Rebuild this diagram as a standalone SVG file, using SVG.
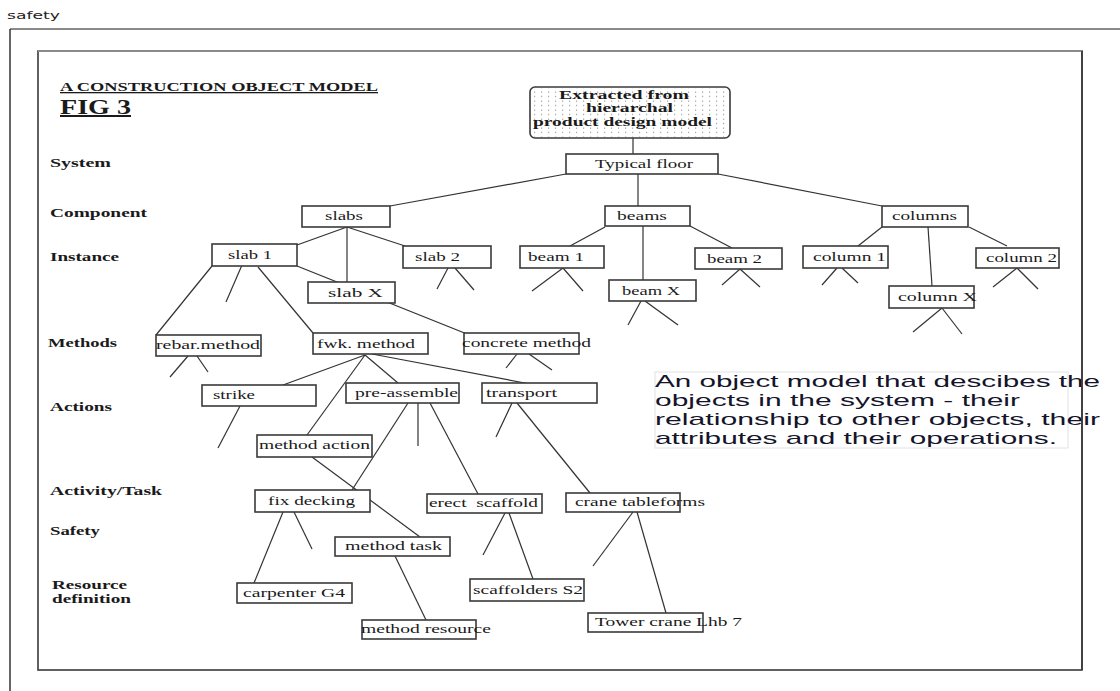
<svg xmlns="http://www.w3.org/2000/svg" width="1120" height="691" viewBox="0 0 1120 691">
<defs>
<pattern id="dots" width="7" height="4.5" patternUnits="userSpaceOnUse">
<rect x="2" y="1.5" width="1.2" height="1.2" fill="#9a9a9a"/>
</pattern>
<style>
.box{fill:#fff;stroke:#3a3a3a;stroke-width:1.6}
.t{font-family:"Liberation Serif",serif;font-size:13px;fill:#1a1a1a}
.lbl{font-family:"Liberation Serif",serif;font-size:13px;font-weight:bold;fill:#1a1a1a}
.c{stroke:#333;stroke-width:1.2;fill:none}
.desc{font-family:"Liberation Sans",Arial,sans-serif;font-size:17px;fill:#14142a}
</style>
</defs>
<rect width="1120" height="691" fill="#fff"/>
<text x="7" y="19" font-family="DejaVu Sans, sans-serif" font-size="11" fill="#222" textLength="53" lengthAdjust="spacingAndGlyphs">safety</text>
<g id="outer-frame">
<line x1="10" y1="29" x2="1120" y2="29" stroke="#8a8a8a" stroke-width="2"/>
<line x1="10" y1="29" x2="10" y2="691" stroke="#333" stroke-width="1.5"/>
</g>
<g id="inner-frame">
<rect x="38" y="51" width="1044" height="619" fill="none" stroke="#3a3a3a" stroke-width="1.6"/>
<line x1="38" y1="51" x2="1082" y2="51" stroke="#8a8a8a" stroke-width="2"/>
</g>
<g id="title">
<text x="60" y="91" class="lbl" font-size="12" textLength="318" lengthAdjust="spacingAndGlyphs" text-decoration="underline">A CONSTRUCTION OBJECT MODEL</text>
<text x="60" y="114" font-family="Liberation Serif, serif" font-weight="bold" font-size="20" fill="#1a1a1a" textLength="71" lengthAdjust="spacingAndGlyphs" text-decoration="underline">FIG 3</text>
</g>
<g id="row-labels" lengthAdjust="spacingAndGlyphs">
<text class="lbl" x="50" y="167" textLength="61" lengthAdjust="spacingAndGlyphs">System</text>
<text class="lbl" x="50" y="217" textLength="97" lengthAdjust="spacingAndGlyphs">Component</text>
<text class="lbl" x="50" y="261" textLength="69" lengthAdjust="spacingAndGlyphs">Instance</text>
<text class="lbl" x="48" y="347" textLength="69" lengthAdjust="spacingAndGlyphs">Methods</text>
<text class="lbl" x="50" y="411" textLength="62" lengthAdjust="spacingAndGlyphs">Actions</text>
<text class="lbl" x="50" y="495" textLength="112" lengthAdjust="spacingAndGlyphs">Activity/Task</text>
<text class="lbl" x="50" y="535" textLength="50" lengthAdjust="spacingAndGlyphs">Safety</text>
<text class="lbl" x="52" y="589" textLength="75" lengthAdjust="spacingAndGlyphs">Resource</text>
<text class="lbl" x="52" y="603" textLength="79" lengthAdjust="spacingAndGlyphs">definition</text>
</g>
<g id="connectors">
<line class="c" x1="633" y1="138" x2="633" y2="154"/>
<line class="c" x1="566" y1="174" x2="390" y2="206"/>
<line class="c" x1="638" y1="174" x2="638" y2="206"/>
<line class="c" x1="718" y1="174" x2="882" y2="206"/>
<line class="c" x1="347" y1="227" x2="297" y2="245"/>
<line class="c" x1="347" y1="227" x2="347" y2="282"/>
<line class="c" x1="347" y1="227" x2="405" y2="246"/>
<line class="c" x1="605" y1="227" x2="570" y2="246"/>
<line class="c" x1="643" y1="226" x2="643" y2="280"/>
<line class="c" x1="690" y1="226" x2="732" y2="248"/>
<line class="c" x1="882" y1="227" x2="858" y2="246"/>
<line class="c" x1="928" y1="227" x2="932" y2="286"/>
<line class="c" x1="969" y1="227" x2="1007" y2="246"/>
<line class="c" x1="448" y1="268" x2="437" y2="289"/>
<line class="c" x1="455" y1="268" x2="474" y2="290"/>
<line class="c" x1="563" y1="268" x2="532" y2="291"/>
<line class="c" x1="563" y1="268" x2="583" y2="291"/>
<line class="c" x1="641" y1="301" x2="628" y2="325"/>
<line class="c" x1="645" y1="301" x2="678" y2="325"/>
<line class="c" x1="740" y1="269" x2="722" y2="285"/>
<line class="c" x1="740" y1="269" x2="760" y2="287"/>
<line class="c" x1="837" y1="268" x2="822" y2="285"/>
<line class="c" x1="842" y1="268" x2="858" y2="283"/>
<line class="c" x1="942" y1="308" x2="913" y2="332"/>
<line class="c" x1="942" y1="308" x2="962" y2="334"/>
<line class="c" x1="1017" y1="268" x2="993" y2="287"/>
<line class="c" x1="1017" y1="268" x2="1038" y2="289"/>
<line class="c" x1="212" y1="266" x2="156" y2="335"/>
<line class="c" x1="242" y1="265" x2="226" y2="302"/>
<line class="c" x1="258" y1="267" x2="313" y2="333"/>
<line class="c" x1="297" y1="266" x2="467" y2="334"/>
<line class="c" x1="188" y1="356" x2="170" y2="377"/>
<line class="c" x1="197" y1="356" x2="208" y2="372"/>
<line class="c" x1="517" y1="354" x2="506" y2="368"/>
<line class="c" x1="529" y1="354" x2="552" y2="370"/>
<line class="c" x1="365" y1="355" x2="283" y2="385"/>
<line class="c" x1="365" y1="355" x2="307" y2="435"/>
<line class="c" x1="365" y1="355" x2="398" y2="383"/>
<line class="c" x1="372" y1="354" x2="530" y2="384"/>
<line class="c" x1="240" y1="406" x2="218" y2="448"/>
<line class="c" x1="408" y1="403" x2="352" y2="490"/>
<line class="c" x1="418" y1="403" x2="418" y2="446" stroke-width="1.6"/>
<line class="c" x1="430" y1="403" x2="478" y2="494"/>
<line class="c" x1="512" y1="403" x2="496" y2="437"/>
<line class="c" x1="517" y1="403" x2="590" y2="493"/>
<line class="c" x1="312" y1="457" x2="420" y2="537"/>
<line class="c" x1="283" y1="512" x2="254" y2="583"/>
<line class="c" x1="294" y1="512" x2="312" y2="549"/>
<line class="c" x1="395" y1="556" x2="426" y2="620"/>
<line class="c" x1="505" y1="513" x2="483" y2="555"/>
<line class="c" x1="509" y1="513" x2="533" y2="579"/>
<line class="c" x1="633" y1="512" x2="593" y2="566"/>
<line class="c" x1="637" y1="512" x2="666" y2="613"/>
</g>
<g id="extracted">
<rect x="530" y="87" width="200" height="51" rx="5" fill="#fff" stroke="#3a3a3a" stroke-width="1.6"/>
<rect x="531" y="88" width="198" height="49" rx="4" fill="url(#dots)"/>
<text class="lbl" x="559" y="99" textLength="130" lengthAdjust="spacingAndGlyphs">Extracted from</text>
<text class="lbl" x="586" y="112" textLength="87" lengthAdjust="spacingAndGlyphs">hierarchal</text>
<text class="lbl" x="533" y="126" textLength="179" lengthAdjust="spacingAndGlyphs">product design model</text>
</g>
<g id="typical-floor"><rect class="box" x="566" y="154" width="152" height="20"/><text class="t" x="595" y="168" textLength="98" lengthAdjust="spacingAndGlyphs">Typical floor</text></g>
<g id="slabs"><rect class="box" x="302" y="206" width="88" height="21"/><text class="t" x="325" y="220" textLength="38" lengthAdjust="spacingAndGlyphs">slabs</text></g>
<g id="beams"><rect class="box" x="605" y="206" width="85" height="20"/><text class="t" x="617" y="220" textLength="50" lengthAdjust="spacingAndGlyphs">beams</text></g>
<g id="columns"><rect class="box" x="882" y="206" width="86" height="21"/><text class="t" x="892" y="220" textLength="65" lengthAdjust="spacingAndGlyphs">columns</text></g>
<g id="slab-1"><rect class="box" x="212" y="244" width="85" height="22"/><text class="t" x="228" y="259" textLength="44" lengthAdjust="spacingAndGlyphs">slab 1</text></g>
<g id="slab-x"><rect class="box" x="308" y="282" width="87" height="21"/><text class="t" x="328" y="297" textLength="55" lengthAdjust="spacingAndGlyphs">slab X</text></g>
<g id="slab-2"><rect class="box" x="403" y="246" width="88" height="22"/><text class="t" x="415" y="261" textLength="45" lengthAdjust="spacingAndGlyphs">slab 2</text></g>
<g id="beam-1"><rect class="box" x="520" y="246" width="84" height="22"/><text class="t" x="528" y="261" textLength="56" lengthAdjust="spacingAndGlyphs">beam 1</text></g>
<g id="beam-x"><rect class="box" x="609" y="280" width="87" height="21"/><text class="t" x="622" y="295" textLength="58" lengthAdjust="spacingAndGlyphs">beam X</text></g>
<g id="beam-2"><rect class="box" x="695" y="248" width="87" height="21"/><text class="t" x="707" y="263" textLength="55" lengthAdjust="spacingAndGlyphs">beam 2</text></g>
<g id="column-1"><rect class="box" x="803" y="246" width="85" height="22"/><text class="t" x="813" y="261" textLength="73" lengthAdjust="spacingAndGlyphs">column 1</text></g>
<g id="column-x"><rect class="box" x="889" y="286" width="85" height="22"/><text class="t" x="898" y="301" textLength="79" lengthAdjust="spacingAndGlyphs">column X</text></g>
<g id="column-2"><rect class="box" x="976" y="248" width="83" height="20"/><text class="t" x="986" y="262" textLength="71" lengthAdjust="spacingAndGlyphs">column 2</text></g>
<g id="rebar-method"><rect class="box" x="156" y="335" width="105" height="21"/><text class="t" x="156" y="349" textLength="104" lengthAdjust="spacingAndGlyphs">rebar.method</text></g>
<g id="fwk-method"><rect class="box" x="313" y="333" width="115" height="21"/><text class="t" x="317" y="348" textLength="98" lengthAdjust="spacingAndGlyphs">fwk. method</text></g>
<g id="concrete-method"><rect class="box" x="464" y="333" width="115" height="21"/><text class="t" x="462" y="347" textLength="129" lengthAdjust="spacingAndGlyphs">concrete method</text></g>
<g id="strike"><rect class="box" x="202" y="385" width="114" height="21"/><text class="t" x="213" y="399" textLength="42" lengthAdjust="spacingAndGlyphs">strike</text></g>
<g id="pre-assemble"><rect class="box" x="346" y="383" width="113" height="20"/><text class="t" x="355" y="397" textLength="103" lengthAdjust="spacingAndGlyphs">pre-assemble</text></g>
<g id="transport"><rect class="box" x="482" y="383" width="115" height="20"/><text class="t" x="486" y="397" textLength="71" lengthAdjust="spacingAndGlyphs">transport</text></g>
<g id="method-action"><rect class="box" x="257" y="435" width="115" height="22"/><text class="t" x="259" y="449" textLength="111" lengthAdjust="spacingAndGlyphs">method action</text></g>
<g id="fix-decking"><rect class="box" x="255" y="490" width="115" height="22"/><text class="t" x="268" y="505" textLength="87" lengthAdjust="spacingAndGlyphs">fix decking</text></g>
<g id="method-task"><rect class="box" x="335" y="537" width="115" height="19"/><text class="t" x="345" y="550" textLength="97" lengthAdjust="spacingAndGlyphs">method task</text></g>
<g id="erect-scaffold"><rect class="box" x="427" y="494" width="115" height="19"/><text class="t" x="429" y="507" textLength="109" lengthAdjust="spacingAndGlyphs" xml:space="preserve">erect  scaffold</text></g>
<g id="crane-tableforms"><rect class="box" x="566" y="493" width="114" height="19"/><text class="t" x="575" y="506" textLength="130" lengthAdjust="spacingAndGlyphs">crane tableforms</text></g>
<g id="carpenter-g4"><rect class="box" x="237" y="583" width="115" height="20"/><text class="t" x="243" y="597" textLength="102" lengthAdjust="spacingAndGlyphs">carpenter G4</text></g>
<g id="scaffolders-s2"><rect class="box" x="470" y="579" width="114" height="22"/><text class="t" x="473" y="594" textLength="110" lengthAdjust="spacingAndGlyphs">scaffolders S2</text></g>
<g id="method-resource"><rect class="box" x="362" y="620" width="114" height="19"/><text class="t" x="361" y="633" textLength="130" lengthAdjust="spacingAndGlyphs">method resource</text></g>
<g id="tower-crane"><rect class="box" x="588" y="613" width="115" height="19"/><text class="t" x="595" y="626" textLength="147" lengthAdjust="spacingAndGlyphs">Tower crane Lhb 7</text></g>
<g id="description">
<rect x="655" y="372" width="413" height="76" fill="none" stroke="#e2e2e2" stroke-width="1"/>
<text class="desc" x="655" y="387" textLength="445" lengthAdjust="spacingAndGlyphs">An object model that descibes the</text>
<text class="desc" x="655" y="406" textLength="365" lengthAdjust="spacingAndGlyphs">objects in the system - their</text>
<text class="desc" x="655" y="425" textLength="445" lengthAdjust="spacingAndGlyphs">relationship to other objects, their</text>
<text class="desc" x="655" y="444" textLength="402" lengthAdjust="spacingAndGlyphs">attributes and their operations.</text>
</g>
<line x1="1082" y1="51" x2="1082" y2="670" stroke="#3a3a3a" stroke-width="1.6"/>
</svg>
